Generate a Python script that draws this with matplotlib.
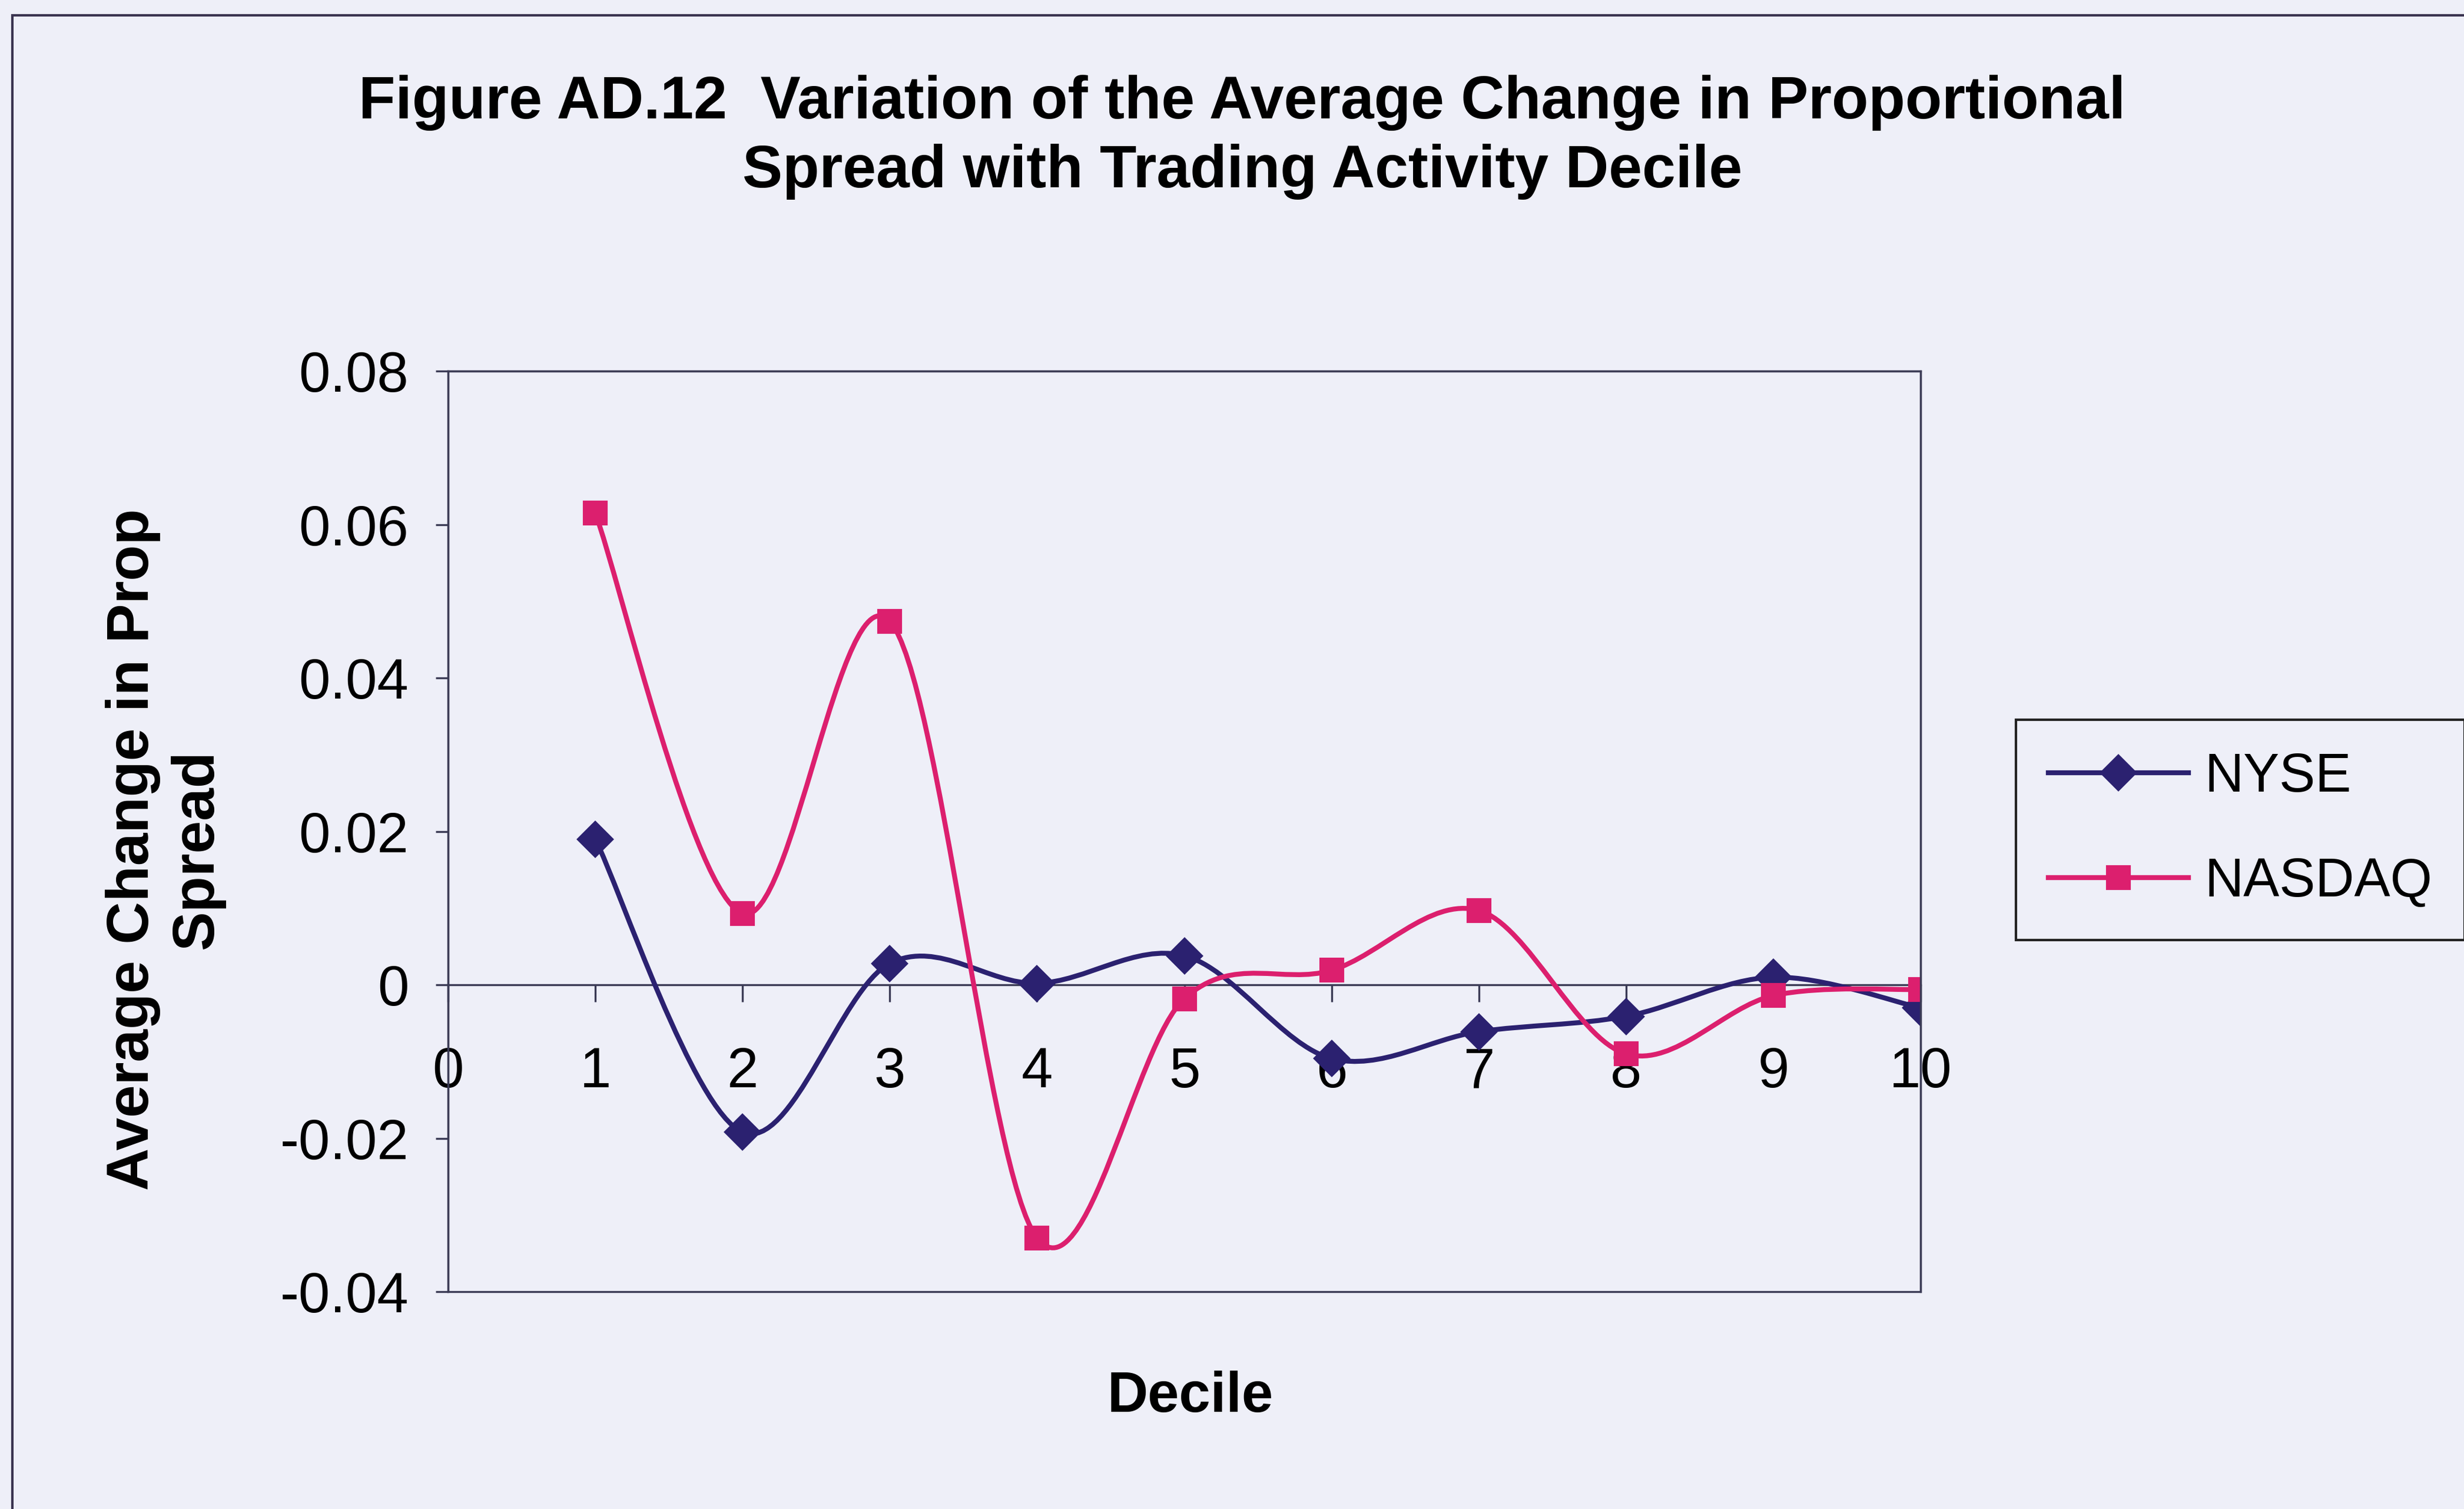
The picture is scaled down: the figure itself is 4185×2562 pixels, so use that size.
import matplotlib.pyplot as plt
import numpy as np
from matplotlib.path import Path
from matplotlib.patches import PathPatch, Rectangle

plt.rcParams['font.family'] = ['Liberation Sans', 'DejaVu Sans']

deciles = [1, 2, 3, 4, 5, 6, 7, 8, 9, 10]
nyse = [0.0190, -0.0192, 0.0028, 0.0002, 0.0038, -0.0096, -0.0061, -0.0041, 0.0010, -0.0030]
nasdaq = [0.0615, 0.0093, 0.0474, -0.0330, -0.0018, 0.0019, 0.0097, -0.0090, -0.0014, -0.0006]

bg = '#eeeff8'
navy = '#2b2170'
pink = '#dc1f6e'


def smooth_path(xs, ys):
    # excel-style smoothed line: catmull-rom segments as cubic beziers
    pts = np.column_stack([xs, ys]).astype(float)
    n = len(pts)
    verts = [pts[0]]
    codes = [Path.MOVETO]
    for i in range(n - 1):
        p0 = pts[i - 1] if i > 0 else pts[i]
        p1 = pts[i]
        p2 = pts[i + 1]
        p3 = pts[i + 2] if i + 2 < n else pts[i + 1]
        c1 = p1 + (p2 - p0) / 6.0
        c2 = p2 - (p3 - p1) / 6.0
        verts += [c1, c2, p2]
        codes += [Path.CURVE4] * 3
    return Path(verts, codes)


fig = plt.figure(figsize=(13.953, 8.5402), dpi=300, facecolor=bg)
ax = fig.add_axes([0.1818, 0.144, 0.5975, 0.610])
ax.set_facecolor(bg)

for ys, col, mk, ms, lab in [(nyse, navy, 'D', 10, 'NYSE'), (nasdaq, pink, 's', 9, 'NASDAQ')]:
    ax.add_patch(PathPatch(smooth_path(deciles, ys), fill=False, edgecolor=col, lw=2.0, zorder=3))
    ax.plot(deciles, ys, ls='none', marker=mk, ms=ms, color=col, zorder=4)
    ax.plot([], [], color=col, lw=2.0, marker=mk, ms=ms, label=lab)

ax.set_xlim(0, 10)
ax.set_ylim(-0.04, 0.08)
ax.set_xticks(range(0, 11))
ax.set_yticks([-0.04, -0.02, 0, 0.02, 0.04, 0.06, 0.08])
ax.set_yticklabels(['-0.04', '-0.02', '0', '0.02', '0.04', '0.06', '0.08'])

ax.spines['bottom'].set_position(('data', 0))
for s in ax.spines.values():
    s.set_color('#3b3b55')
    s.set_linewidth(0.8)
ax.add_patch(Rectangle((0, -0.04), 10, 0.12, fill=False, edgecolor='#3b3b55', lw=0.8,
                       zorder=5, clip_on=False))

ax.tick_params(axis='x', direction='out', length=7, width=0.8, pad=18, labelsize=23, colors='#3b3b55', labelcolor='black')
ax.tick_params(axis='y', direction='out', length=5, width=0.8, pad=11, labelsize=23, colors='#3b3b55', labelcolor='black')

fig.text(0.504, 0.909, 'Figure AD.12  Variation of the Average Change in Proportional\nSpread with Trading Activity Decile',
         ha='center', va='center', fontsize=24.5, fontweight='bold', linespacing=1.3)
fig.text(0.067, 0.437, 'Average Change in Prop\nSpread', rotation=90, ha='center', va='center',
         fontsize=24, fontweight='bold', linespacing=1.2)
fig.text(0.483, 0.074, 'Decile', ha='center', va='center', fontsize=23, fontweight='bold')

leg = fig.legend(loc='center', bbox_to_anchor=(0.909, 0.45), fontsize=22, frameon=True,
                 fancybox=False, edgecolor='#222222', facecolor=bg, framealpha=1,
                 handlelength=2.6, handletextpad=0.3, borderpad=0.6, labelspacing=1.0)
leg.get_frame().set_linewidth(1.0)

# outer chart border (scan shows only left and top edges)
fig.add_artist(Rectangle((0.005, -0.1), 1.2, 1.09, transform=fig.transFigure, fill=False,
                         edgecolor='#3a3450', lw=1.0))

fig.savefig('out.png', dpi=300, facecolor=bg)
